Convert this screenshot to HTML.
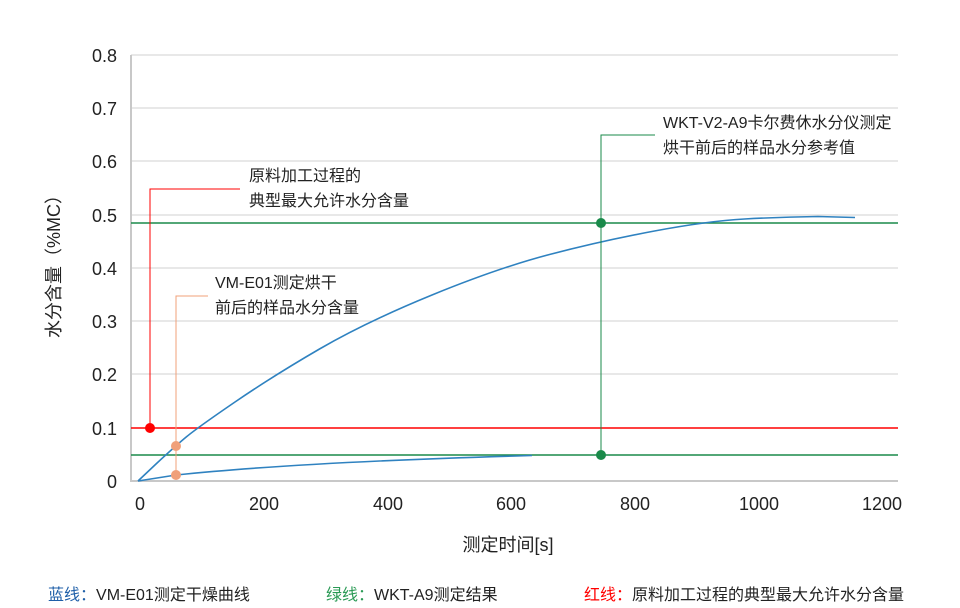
<!DOCTYPE html><html><head><meta charset="utf-8"><style>body{margin:0;background:#fff}svg{display:block;font-family:"Liberation Sans","Noto Sans CJK SC",sans-serif}</style></head><body>
<svg width="960" height="608" viewBox="0 0 960 608">
<g stroke="#d0d0d0" stroke-width="1">
<line x1="131" y1="55" x2="898" y2="55"/><line x1="131" y1="108" x2="898" y2="108"/><line x1="131" y1="161" x2="898" y2="161"/><line x1="131" y1="215" x2="898" y2="215"/><line x1="131" y1="268" x2="898" y2="268"/><line x1="131" y1="321" x2="898" y2="321"/><line x1="131" y1="374" x2="898" y2="374"/>
</g>
<line x1="131" y1="55" x2="131" y2="482" stroke="#c8c8c8" stroke-width="2"/>
<line x1="131" y1="481" x2="898" y2="481" stroke="#c8c8c8" stroke-width="2"/>
<g font-size="18" fill="#222" text-anchor="end">
<text x="117" y="62">0.8</text><text x="117" y="115">0.7</text><text x="117" y="168">0.6</text><text x="117" y="222">0.5</text><text x="117" y="275">0.4</text><text x="117" y="328">0.3</text><text x="117" y="381">0.2</text><text x="117" y="435">0.1</text><text x="117" y="488">0</text>
</g>
<g font-size="18" fill="#222" text-anchor="middle">
<text x="140" y="510">0</text><text x="264" y="510">200</text><text x="388" y="510">400</text><text x="511" y="510">600</text><text x="635" y="510">800</text><text x="759" y="510">1000</text><text x="882" y="510">1200</text>
<text x="508" y="551">测定时间[s]</text>
</g>
<text transform="translate(60,262) rotate(-90)" font-size="18" fill="#222" text-anchor="middle">水分含量（%MC）</text>
<line x1="131" y1="428" x2="898" y2="428" stroke="#f00" stroke-width="1.5"/>
<line x1="131" y1="455" x2="898" y2="455" stroke="#1a8a4a" stroke-width="1.5"/>
<line x1="131" y1="223" x2="898" y2="223" stroke="#1a8a4a" stroke-width="1.5"/>
<path d="M138,481 L156,464 Q176,445.5 186.5,436.8 Q197,428 235,402 Q273,376 319.5,349 Q366,322 432,295 Q498,268 549.5,254.5 Q601,241 654.5,231 Q708,221 744.5,219 Q781,217 818,216.5 L855,217.5" fill="none" stroke="#2f82c0" stroke-width="1.6"/>
<path d="M138,481 L176,475 Q300,462 532,455.5" fill="none" stroke="#2f82c0" stroke-width="1.6"/>
<polyline points="150,428 150,189 240,189" fill="none" stroke="#f00" stroke-width="1"/>
<polyline points="176,475 176,296 208,296" fill="none" stroke="#f0a07a" stroke-width="1"/>
<polyline points="601,455 601,135 655,135" fill="none" stroke="#1a8a4a" stroke-width="1"/>
<circle cx="150" cy="428" r="5" fill="#f00"/>
<circle cx="176" cy="446" r="5" fill="#f0a07a"/><circle cx="176" cy="475" r="5" fill="#f0a07a"/>
<circle cx="601" cy="223" r="5" fill="#1a8a4a"/><circle cx="601" cy="455" r="5" fill="#1a8a4a"/>
<g font-size="16" fill="#222">
<text x="249" y="181">原料加工过程的</text><text x="249" y="206">典型最大允许水分含量</text>
<text x="215" y="288">VM-E01测定烘干</text><text x="215" y="313">前后的样品水分含量</text>
<text x="663" y="128">WKT-V2-A9卡尔费休水分仪测定</text><text x="663" y="153">烘干前后的样品水分参考值</text>
</g>
<g font-size="16">
<text x="48" y="600"><tspan fill="#1f5fa8">蓝线：</tspan><tspan fill="#222">VM-E01测定干燥曲线</tspan></text>
<text x="326" y="600"><tspan fill="#2a9a55">绿线：</tspan><tspan fill="#222">WKT-A9测定结果</tspan></text>
<text x="584" y="600"><tspan fill="#f00">红线：</tspan><tspan fill="#222">原料加工过程的典型最大允许水分含量</tspan></text>
</g>
</svg></body></html>
